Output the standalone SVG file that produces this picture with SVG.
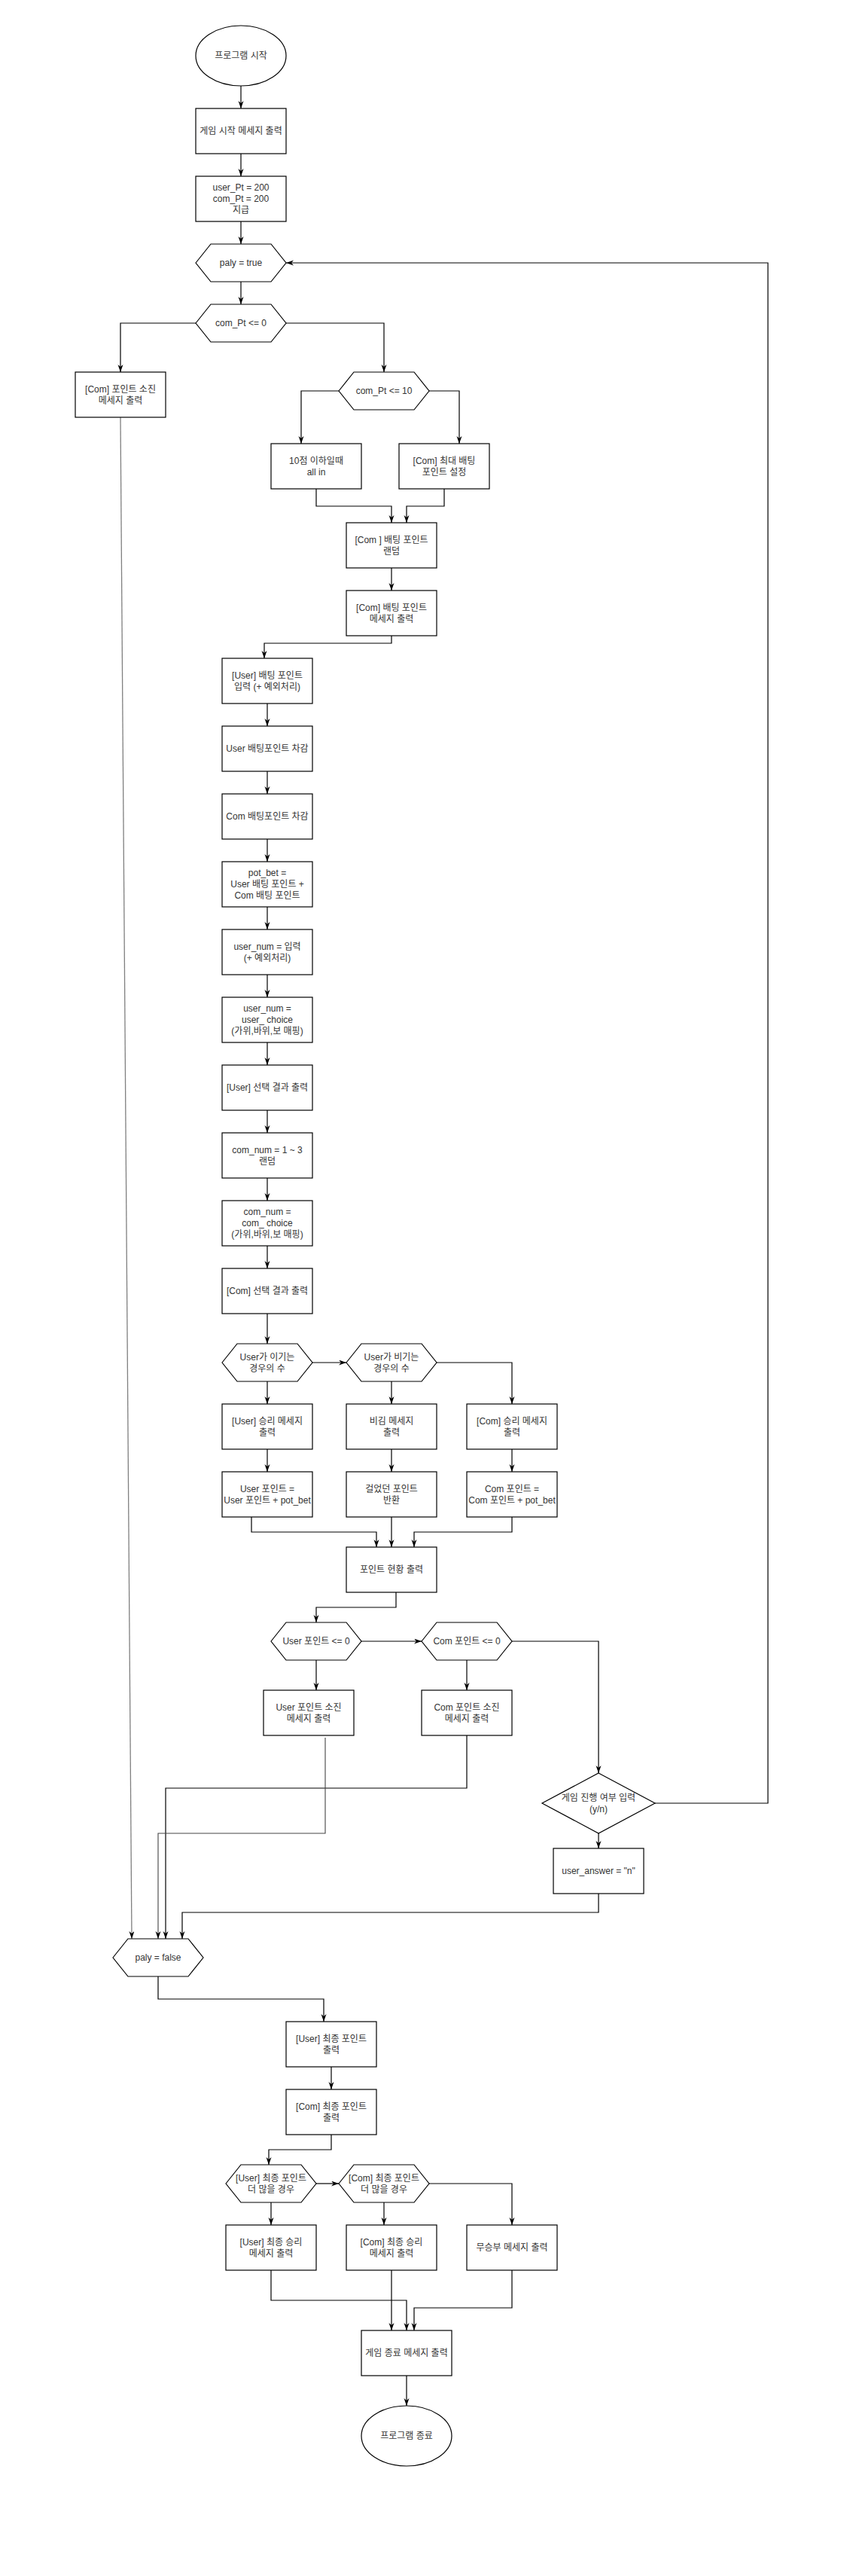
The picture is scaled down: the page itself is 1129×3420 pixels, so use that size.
<svg xmlns="http://www.w3.org/2000/svg" width="1129" height="3420" viewBox="0 0 1129 3420">
<style>
.s{fill:#fff;stroke:#000;stroke-width:1.2}
.t{font-family:"Liberation Sans","Noto Sans CJK KR",sans-serif;font-size:12px;fill:#333;text-anchor:middle;dominant-baseline:central}
.c{fill:none;stroke:#000;stroke-width:1.2;marker-end:url(#ah)}
.g{fill:none;stroke:#808080;stroke-width:1.3;marker-end:url(#ah)}
.g2{fill:none;stroke:#444;stroke-width:1.1;marker-end:url(#ah)}
</style>
<defs>
<marker id="ah" markerUnits="userSpaceOnUse" markerWidth="11" markerHeight="8" refX="10" refY="3.5" orient="auto"><path d="M0,0 L10,3.5 L0,7 L3,3.5 Z" fill="#000"/></marker>
</defs>
<rect width="1129" height="3420" fill="#fff"/>
<g id="connectors">
<path class="c" d="M320,114 V144"/>
<path class="c" d="M320,204 V234"/>
<path class="c" d="M320,294 V324"/>
<path class="c" d="M320,374 V404"/>
<path class="c" d="M260,429 H160 V494"/>
<path class="c" d="M380,429 H510 V494"/>
<path class="c" d="M450,519 H400 V589"/>
<path class="c" d="M570,519 H610 V589"/>
<path class="c" d="M420,649 V672 H520 V694"/>
<path class="c" d="M590,649 V672 H540 V694"/>
<path class="c" d="M520,754 V784"/>
<path class="c" d="M520,844 V854 H351 V874"/>
<path class="c" d="M355,934 V964"/>
<path class="c" d="M355,1024 V1054"/>
<path class="c" d="M355,1114 V1144"/>
<path class="c" d="M355,1204 V1234"/>
<path class="c" d="M355,1294 V1324"/>
<path class="c" d="M355,1384 V1414"/>
<path class="c" d="M355,1474 V1504"/>
<path class="c" d="M355,1564 V1594"/>
<path class="c" d="M355,1654 V1684"/>
<path class="c" d="M355,1744 V1784"/>
<path class="c" d="M415,1809 H460"/>
<path class="c" d="M580,1809 H680 V1864"/>
<path class="c" d="M355,1834 V1864"/>
<path class="c" d="M520,1834 V1864"/>
<path class="c" d="M355,1924 V1954"/>
<path class="c" d="M520,1924 V1954"/>
<path class="c" d="M680,1924 V1954"/>
<path class="c" d="M334,2014 V2034 H500 V2054"/>
<path class="c" d="M520,2014 V2054"/>
<path class="c" d="M680,2014 V2034 H550 V2054"/>
<path class="c" d="M526,2114 V2134 H420 V2154"/>
<path class="c" d="M480,2179 H560"/>
<path class="c" d="M680,2179 H795 V2354"/>
<path class="c" d="M420,2204 V2244"/>
<path class="c" d="M620,2204 V2244"/>
<path class="c" d="M870,2394 H1020 V349 H380"/>
<path class="c" d="M795,2434 V2454"/>
<path class="c" d="M795,2514 V2539 H242 V2574"/>
<path class="c" d="M620,2304 V2374 H220 V2574"/>
<path class="g2" d="M432,2307 V2434 H210 V2574"/>
<path class="g" d="M160,554 L175,2574"/>
<path class="c" d="M210,2624 V2654 H430 V2684"/>
<path class="c" d="M440,2744 V2774"/>
<path class="c" d="M440,2834 V2854 H357 V2874"/>
<path class="c" d="M420,2899 H450"/>
<path class="c" d="M570,2899 H680 V2954"/>
<path class="c" d="M360,2924 V2954"/>
<path class="c" d="M510,2924 V2954"/>
<path class="c" d="M360,3014 V3054 H540 V3094"/>
<path class="c" d="M520,3014 V3094"/>
<path class="c" d="M680,3014 V3064 H550 V3094"/>
<path class="c" d="M540,3154 V3194"/>
</g>
<g id="start"><ellipse class="s" cx="320" cy="74" rx="60" ry="40"/><text class="t" x="320" y="74">프로그램 시작</text></g>
<g id="b1"><rect class="s" x="260" y="144" width="120" height="60"/><text class="t" x="320" y="174">게임 시작 메세지 출력</text></g>
<g id="b2"><rect class="s" x="260" y="234" width="120" height="60"/><text class="t" x="320"><tspan x="320" y="249">user_Pt = 200</tspan><tspan x="320" y="264">com_Pt = 200</tspan><tspan x="320" y="279">지급</tspan></text></g>
<g id="h1"><path class="s" d="M260,349 L280,324 L360,324 L380,349 L360,374 L280,374 Z"/><text class="t" x="320" y="349">paly = true</text></g>
<g id="h2"><path class="s" d="M260,429 L280,404 L360,404 L380,429 L360,454 L280,454 Z"/><text class="t" x="320" y="429">com_Pt &lt;= 0</text></g>
<g id="b3"><rect class="s" x="100" y="494" width="120" height="60"/><text class="t"><tspan x="160" y="516.5">[Com] 포인트 소진</tspan><tspan x="160" y="531.5">메세지 출력</tspan></text></g>
<g id="h3"><path class="s" d="M450,519 L470,494 L550,494 L570,519 L550,544 L470,544 Z"/><text class="t" x="510" y="519">com_Pt &lt;= 10</text></g>
<g id="b4"><rect class="s" x="360" y="589" width="120" height="60"/><text class="t"><tspan x="420" y="611.5">10점 이하일때</tspan><tspan x="420" y="626.5">all in</tspan></text></g>
<g id="b5"><rect class="s" x="530" y="589" width="120" height="60"/><text class="t"><tspan x="590" y="611.5">[Com] 최대 배팅</tspan><tspan x="590" y="626.5">포인트 설정</tspan></text></g>
<g id="b6"><rect class="s" x="460" y="694" width="120" height="60"/><text class="t"><tspan x="520" y="716.5">[Com ] 배팅 포인트</tspan><tspan x="520" y="731.5">랜덤</tspan></text></g>
<g id="b7"><rect class="s" x="460" y="784" width="120" height="60"/><text class="t"><tspan x="520" y="806.5">[Com] 배팅 포인트</tspan><tspan x="520" y="821.5">메세지 출력</tspan></text></g>
<g id="b8"><rect class="s" x="295" y="874" width="120" height="60"/><text class="t"><tspan x="355" y="896.5">[User] 배팅 포인트</tspan><tspan x="355" y="911.5">입력 (+ 예외처리)</tspan></text></g>
<g id="b9"><rect class="s" x="295" y="964" width="120" height="60"/><text class="t" x="355" y="994">User 배팅포인트 차감</text></g>
<g id="b10"><rect class="s" x="295" y="1054" width="120" height="60"/><text class="t" x="355" y="1084">Com 배팅포인트 차감</text></g>
<g id="b11"><rect class="s" x="295" y="1144" width="120" height="60"/><text class="t"><tspan x="355" y="1159">pot_bet =</tspan><tspan x="355" y="1174">User 배팅 포인트 +</tspan><tspan x="355" y="1189">Com 배팅 포인트</tspan></text></g>
<g id="b12"><rect class="s" x="295" y="1234" width="120" height="60"/><text class="t"><tspan x="355" y="1256.5">user_num = 입력</tspan><tspan x="355" y="1271.5">(+ 예외처리)</tspan></text></g>
<g id="b13"><rect class="s" x="295" y="1324" width="120" height="60"/><text class="t"><tspan x="355" y="1339">user_num =</tspan><tspan x="355" y="1354">user_ choice</tspan><tspan x="355" y="1369">(가위,바위,보 매핑)</tspan></text></g>
<g id="b14"><rect class="s" x="295" y="1414" width="120" height="60"/><text class="t" x="355" y="1444">[User] 선택 결과 출력</text></g>
<g id="b15"><rect class="s" x="295" y="1504" width="120" height="60"/><text class="t"><tspan x="355" y="1526.5">com_num = 1 ~ 3</tspan><tspan x="355" y="1541.5">랜덤</tspan></text></g>
<g id="b16"><rect class="s" x="295" y="1594" width="120" height="60"/><text class="t"><tspan x="355" y="1609">com_num =</tspan><tspan x="355" y="1624">com_ choice</tspan><tspan x="355" y="1639">(가위,바위,보 매핑)</tspan></text></g>
<g id="b17"><rect class="s" x="295" y="1684" width="120" height="60"/><text class="t" x="355" y="1714">[Com] 선택 결과 출력</text></g>
<g id="h4"><path class="s" d="M295,1809 L315,1784 L395,1784 L415,1809 L395,1834 L315,1834 Z"/><text class="t"><tspan x="355" y="1801.5">User가 이기는</tspan><tspan x="355" y="1816.5">경우의 수</tspan></text></g>
<g id="h5"><path class="s" d="M460,1809 L480,1784 L560,1784 L580,1809 L560,1834 L480,1834 Z"/><text class="t"><tspan x="520" y="1801.5">User가 비기는</tspan><tspan x="520" y="1816.5">경우의 수</tspan></text></g>
<g id="b18"><rect class="s" x="295" y="1864" width="120" height="60"/><text class="t"><tspan x="355" y="1886.5">[User] 승리 메세지</tspan><tspan x="355" y="1901.5">출력</tspan></text></g>
<g id="b19"><rect class="s" x="460" y="1864" width="120" height="60"/><text class="t"><tspan x="520" y="1886.5">비김 메세지</tspan><tspan x="520" y="1901.5">출력</tspan></text></g>
<g id="b20"><rect class="s" x="620" y="1864" width="120" height="60"/><text class="t"><tspan x="680" y="1886.5">[Com] 승리 메세지</tspan><tspan x="680" y="1901.5">출력</tspan></text></g>
<g id="b21"><rect class="s" x="295" y="1954" width="120" height="60"/><text class="t"><tspan x="355" y="1976.5">User 포인트 =</tspan><tspan x="355" y="1991.5">User 포인트 + pot_bet</tspan></text></g>
<g id="b22"><rect class="s" x="460" y="1954" width="120" height="60"/><text class="t"><tspan x="520" y="1976.5">걸었던 포인트</tspan><tspan x="520" y="1991.5">반환</tspan></text></g>
<g id="b23"><rect class="s" x="620" y="1954" width="120" height="60"/><text class="t"><tspan x="680" y="1976.5">Com 포인트 =</tspan><tspan x="680" y="1991.5">Com 포인트 + pot_bet</tspan></text></g>
<g id="b24"><rect class="s" x="460" y="2054" width="120" height="60"/><text class="t" x="520" y="2084">포인트 현황 출력</text></g>
<g id="h6"><path class="s" d="M360,2179 L380,2154 L460,2154 L480,2179 L460,2204 L380,2204 Z"/><text class="t" x="420" y="2179">User 포인트 &lt;= 0</text></g>
<g id="h7"><path class="s" d="M560,2179 L580,2154 L660,2154 L680,2179 L660,2204 L580,2204 Z"/><text class="t" x="620" y="2179">Com 포인트 &lt;= 0</text></g>
<g id="b25"><rect class="s" x="350" y="2244" width="120" height="60"/><text class="t"><tspan x="410" y="2266.5">User 포인트 소진</tspan><tspan x="410" y="2281.5">메세지 출력</tspan></text></g>
<g id="b26"><rect class="s" x="560" y="2244" width="120" height="60"/><text class="t"><tspan x="620" y="2266.5">Com 포인트 소진</tspan><tspan x="620" y="2281.5">메세지 출력</tspan></text></g>
<g id="d1"><path class="s" d="M795,2354 L870,2394 L795,2434 L720,2394 Z"/><text class="t"><tspan x="795" y="2386.5">게임 진행 여부 입력</tspan><tspan x="795" y="2401.5">(y/n)</tspan></text></g>
<g id="b27"><rect class="s" x="735" y="2454" width="120" height="60"/><text class="t" x="795" y="2484">user_answer = "n"</text></g>
<g id="h8"><path class="s" d="M150,2599 L170,2574 L250,2574 L270,2599 L250,2624 L170,2624 Z"/><text class="t" x="210" y="2599">paly = false</text></g>
<g id="b28"><rect class="s" x="380" y="2684" width="120" height="60"/><text class="t"><tspan x="440" y="2706.5">[User] 최종 포인트</tspan><tspan x="440" y="2721.5">출력</tspan></text></g>
<g id="b29"><rect class="s" x="380" y="2774" width="120" height="60"/><text class="t"><tspan x="440" y="2796.5">[Com] 최종 포인트</tspan><tspan x="440" y="2811.5">출력</tspan></text></g>
<g id="h9"><path class="s" d="M300,2899 L320,2874 L400,2874 L420,2899 L400,2924 L320,2924 Z"/><text class="t"><tspan x="360" y="2891.5">[User] 최종 포인트</tspan><tspan x="360" y="2906.5">더 많을 경우</tspan></text></g>
<g id="h10"><path class="s" d="M450,2899 L470,2874 L550,2874 L570,2899 L550,2924 L470,2924 Z"/><text class="t"><tspan x="510" y="2891.5">[Com] 최종 포인트</tspan><tspan x="510" y="2906.5">더 많을 경우</tspan></text></g>
<g id="b30"><rect class="s" x="300" y="2954" width="120" height="60"/><text class="t"><tspan x="360" y="2976.5">[User] 최종 승리</tspan><tspan x="360" y="2991.5">메세지 출력</tspan></text></g>
<g id="b31"><rect class="s" x="460" y="2954" width="120" height="60"/><text class="t"><tspan x="520" y="2976.5">[Com] 최종 승리</tspan><tspan x="520" y="2991.5">메세지 출력</tspan></text></g>
<g id="b32"><rect class="s" x="620" y="2954" width="120" height="60"/><text class="t" x="680" y="2984">무승부 메세지 출력</text></g>
<g id="b33"><rect class="s" x="480" y="3094" width="120" height="60"/><text class="t" x="540" y="3124">게임 종료 메세지 출력</text></g>
<g id="end"><ellipse class="s" cx="540" cy="3234" rx="60" ry="40"/><text class="t" x="540" y="3234">프로그램 종료</text></g>
</svg>
